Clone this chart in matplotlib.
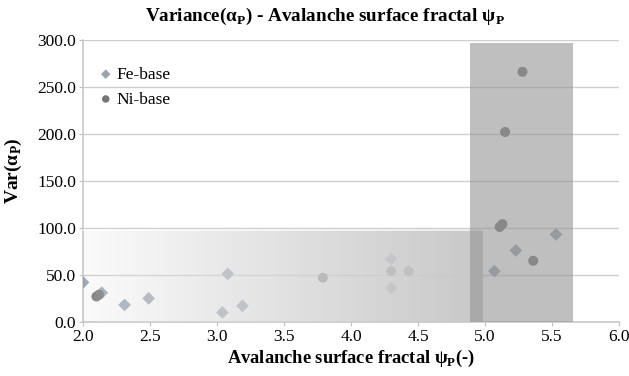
import numpy as np
import matplotlib
matplotlib.use('Agg')
import matplotlib.pyplot as plt

plt.rcParams['font.family'] = ['Liberation Serif', 'DejaVu Serif']
plt.rcParams['mathtext.fontset'] = 'custom'
plt.rcParams['mathtext.rm'] = 'Liberation Serif'
plt.rcParams['mathtext.bf'] = 'Liberation Serif:bold'

# Fe-base alloys (diamonds)
fe_x = [2.00, 2.14, 2.31, 2.49, 3.04, 3.08, 3.19, 4.30, 4.30, 5.07, 5.23, 5.53]
fe_y = [42, 31, 18, 25, 10, 51, 17, 67, 36, 54, 76, 93]

# Ni-base alloys (circles)
ni_x = [2.10, 2.12, 3.79, 4.30, 4.43, 5.11, 5.13, 5.15, 5.28, 5.36]
ni_y = [27, 29, 47, 54, 54, 101, 104, 202, 266, 65]

fig = plt.figure(figsize=(6.29, 3.76), dpi=100)
ax = fig.add_axes([0.132, 0.144, 0.852, 0.750])

ax.set_xlim(2.0, 6.0)
ax.set_ylim(0, 300)
ax.set_xticks(np.arange(2.0, 6.01, 0.5))
ax.set_yticks(np.arange(0, 301, 50))
ax.set_xticklabels(['%.1f' % v for v in np.arange(2.0, 6.01, 0.5)])
ax.set_yticklabels(['%.1f' % v for v in np.arange(0, 301, 50)])
ax.tick_params(labelsize=12.5, length=3, color='#bfbfbf', pad=2)

ax.grid(axis='y', color='#cfcfcf', linewidth=1.0, zorder=0)
ax.set_axisbelow(True)
for s in ['top', 'right']:
    ax.spines[s].set_visible(False)
for s in ['left', 'bottom']:
    ax.spines[s].set_color('#c8c8c8')
    ax.spines[s].set_linewidth(1.2)

ax.scatter(fe_x, fe_y, marker='D', s=42, color='#98a3b4', edgecolors='none',
           zorder=3, label='Fe-base')
ax.scatter(ni_x, ni_y, marker='o', s=52, color='#767676', edgecolors='none',
           zorder=3, label='Ni-base')

# gradient band over the low region
gx0, gx1, gy1 = 2.0, 4.98, 98
t = np.linspace(0, 1, 300)
alpha = np.clip(0.03 + 0.95 * t ** 0.5, 0, 0.96)
bg = 0.985 - 0.20 * t
col = 1 - (1 - bg) / np.maximum(alpha, 1e-3)
col = np.clip(col, 0, 1)
img = np.zeros((1, len(t), 4))
img[0, :, 0] = col
img[0, :, 1] = col
img[0, :, 2] = col
img[0, :, 3] = alpha
ax.imshow(img, extent=[gx0, gx1, 0, gy1], aspect='auto', zorder=4,
          interpolation='bilinear', origin='lower')
ax.plot([gx0, gx1], [gy1, gy1], color='white', linewidth=1.2, alpha=0.8, zorder=4)

# shaded Ni-base band
ax.fill_between([4.89, 5.66], 0, 297, color='#959595', alpha=0.6,
                linewidth=0, zorder=5)

ax.set_xlim(2.0, 6.0)
ax.set_ylim(0, 300)

ax.legend(loc='upper left', bbox_to_anchor=(0.01, 0.93), frameon=False,
          fontsize=12.5, handletextpad=0.0, handlelength=1.2, markerscale=0.75,
          labelspacing=0.5, borderaxespad=0)

fig.text(0.517, 0.955, r'Variance(α$_\mathbf{P}$) - Avalanche surface fractal ψ$_\mathbf{P}$',
         fontsize=13.8, fontweight='bold', ha='center', va='center')
ax.set_xlabel(r'Avalanche surface fractal ψ$_\mathbf{P}$(-)', fontsize=13.3,
              fontweight='bold', labelpad=2)
ax.set_ylabel(r'Var(α$_\mathbf{P}$)', fontsize=14, fontweight='bold')
ax.yaxis.set_label_coords(-0.11, 0.535)

fig.savefig('out.png', dpi=100)
